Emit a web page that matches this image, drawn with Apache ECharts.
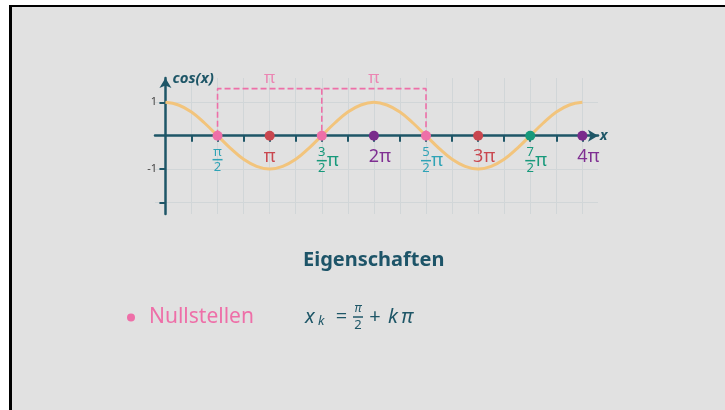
<!DOCTYPE html>
<html>
<head>
<meta charset="utf-8">
<script src="https://cdn.jsdelivr.net/npm/echarts@6/dist/echarts.min.js"></script>
<style>
  body { margin: 0; background: #fff; }
  #frame { position: absolute; left: 9px; top: 5px; width: 716px; height: 405px; box-sizing: border-box;
    border-left: 3px solid #000; border-top: 2px solid #000; background: #e1e1e1; }
  #main { position: absolute; left: 0; top: 0; width: 725px; height: 410px; }
</style>
</head>
<body>
<div id="frame"></div>
<div id="main"></div>
<script>
// x values are in units of pi
const curveX = [0, 0.125, 0.25, 0.375, 0.5, 0.625, 0.75, 0.875, 1, 1.125, 1.25, 1.375, 1.5, 1.625, 1.75, 1.875,
  2, 2.125, 2.25, 2.375, 2.5, 2.625, 2.75, 2.875, 3, 3.125, 3.25, 3.375, 3.5, 3.625, 3.75, 3.875, 4];
const curveY = [1, 0.92, 0.71, 0.38, 0, -0.38, -0.71, -0.92, -1, -0.92, -0.71, -0.38, 0, 0.38, 0.71, 0.92,
  1, 0.92, 0.71, 0.38, 0, -0.38, -0.71, -0.92, -1, -0.92, -0.71, -0.38, 0, 0.38, 0.71, 0.92, 1];
const pointX = [0.5, 1, 1.5, 2, 2.5, 3, 3.5, 4];
const pointLabels = ['π/2', 'π', '3/2π', '2π', '5/2π', '3π', '7/2π', '4π'];
const bracketX = [0.5, 1.5, 2.5];
const bracketTop = 1.41;
const spanX = [1, 2];
const spanLabels = ['π', 'π'];
const xTickValues = [0.25, 0.5, 0.75, 1, 1.25, 1.5, 1.75, 2, 2.25, 2.5, 2.75, 3, 3.25, 3.5, 3.75, 4];
const yTickValues = [1, -1, -2];
const yLabelValues = [1, -1];

const AX = '#1e5667';
const PINK = '#ee6fa8';
const pointColors = [PINK, '#c9474f', PINK, '#7a2b8c', PINK, '#c9474f', '#17997b', '#7a2b8c'];
const labelColors = ['#2fa3b6', '#c9474f', '#17997b', '#7f2f92', '#2fa3b6', '#c9474f', '#17997b', '#7f2f92'];

const FONT = '"Noto Sans", "DejaVu Sans", sans-serif';

function pointLabel(txt, color) {
  const m = txt.match(/^(.+)\/(\d)(π?)$/);
  const rich = {
    w: { fontSize: 18, lineHeight: 20, color: color, fontFamily: FONT },
    n: { fontSize: 13, lineHeight: 11, width: 10, align: 'center', color: color, fontFamily: FONT },
    d: { fontSize: 13, lineHeight: 12, width: 10, align: 'center', color: color, fontFamily: FONT },
    b: { width: 10, height: 1.5, lineHeight: 4, backgroundColor: color },
    p: { fontSize: 18, lineHeight: 4, width: 12, align: 'left', color: color, fontFamily: FONT },
    g: { width: 12 },
  };
  let text, offset = [0, 0];
  if (m) {
    if (m[3]) {
      text = '{n|' + m[1] + '}{g|}\n{b|}{p|π}\n{d|' + m[2] + '}{g|}';
      offset = [6, 0];
    } else {
      text = '{n|' + m[1] + '}\n{b|}\n{d|' + m[2] + '}';
    }
  } else {
    text = '{w|' + txt + '}';
    if (txt.length > 1) offset = [6, 0];
  }
  return { show: true, position: 'bottom', distance: 6, offset: offset, formatter: text, rich: rich };
}

const myChart = echarts.init(document.getElementById('main'));
myChart.setOption({
  animation: false,
  backgroundColor: 'transparent',
  grid: { left: 155, right: 127, top: 78, bottom: 196 },
  title: [
    {
      text: 'Eigenschaften', left: 303, top: 250, padding: 0,
      textStyle: { fontSize: 20, fontWeight: 'bold', color: '#1d5468', fontFamily: FONT },
    },
    {
      text: '{dot|}{t|Nullstellen}', left: 127, top: 307, padding: 0,
      textStyle: {
        rich: {
          dot: { width: 8, height: 8, borderRadius: 4, backgroundColor: PINK },
          t: { fontSize: 21, fontWeight: 'normal', color: PINK, padding: [0, 0, 0, 14], fontFamily: FONT },
        },
      },
    },
    {
      text: '{s|}{fn|π}{s2|}\n{x|x}{k|k}{eq|=}{b|}{pl|+}{kk|k}{pi|π}\n{s|}{fd|2}{s2|}',
      left: 305, top: 303, padding: 0,
      textStyle: {
        rich: {
          s: { width: 48, lineHeight: 12 },
          s2: { width: 52, lineHeight: 12 },
          fn: { fontSize: 12, fontStyle: 'italic', fontWeight: 'normal', width: 10, align: 'center', lineHeight: 12, color: AX, fontFamily: FONT },
          fd: { fontSize: 13, fontWeight: 'normal', width: 10, align: 'center', lineHeight: 12, color: AX, fontFamily: FONT },
          x: { fontSize: 20, fontStyle: 'italic', fontWeight: 'normal', width: 13, lineHeight: 4, color: AX, fontFamily: FONT },
          k: { fontSize: 13, fontStyle: 'italic', fontWeight: 'normal', width: 12, lineHeight: 4, padding: [9, 0, 0, 0], color: AX, fontFamily: FONT },
          eq: { fontSize: 20, fontWeight: 'normal', width: 23, align: 'center', lineHeight: 4, color: AX, fontFamily: FONT },
          b: { width: 10, height: 1.5, lineHeight: 4, backgroundColor: AX },
          pl: { fontSize: 20, fontWeight: 'normal', width: 24, align: 'center', lineHeight: 4, color: AX, fontFamily: FONT },
          kk: { fontSize: 20, fontStyle: 'italic', fontWeight: 'normal', width: 12, align: 'center', lineHeight: 4, color: AX, fontFamily: FONT },
          pi: { fontSize: 20, fontStyle: 'italic', fontWeight: 'normal', width: 16, lineHeight: 4, color: AX, fontFamily: FONT },
        },
      },
    },
  ],
  xAxis: {
    type: 'value', min: -0.1, max: 4.15,
    name: 'x', nameLocation: 'end', nameGap: 2,
    nameTextStyle: { fontSize: 14, fontWeight: 'bold', fontStyle: 'italic', color: AX, align: 'left',
      verticalAlign: 'middle', padding: [0, 0, 24, 0], fontFamily: FONT },
    axisLine: { onZero: true, symbol: ['none', 'arrow'], symbolSize: [9, 10], lineStyle: { color: AX, width: 2.5 } },
    axisTick: { customValues: xTickValues, length: 6, lineStyle: { color: AX, width: 2 } },
    axisLabel: { show: false },
    splitLine: { show: true, lineStyle: { color: '#d1d6d8', width: 1 } },
  },
  yAxis: {
    type: 'value', min: -2.35, max: 1.73,
    name: 'cos(x)', nameLocation: 'end', nameGap: -1,
    nameTextStyle: { fontSize: 15, fontWeight: 'bold', fontStyle: 'italic', color: AX, align: 'left',
      verticalAlign: 'middle', padding: [0, 0, 0, 7], fontFamily: FONT },
    axisLine: { onZero: true, symbol: ['none', 'arrow'], symbolSize: [9, 10], lineStyle: { color: AX, width: 2.5 } },
    axisTick: { customValues: yTickValues, length: 6, lineStyle: { color: AX, width: 2 } },
    axisLabel: { customValues: yLabelValues, fontSize: 11, color: '#444', margin: -2, fontFamily: FONT },
    splitLine: { show: true, lineStyle: { color: '#d1d6d8', width: 1 } },
  },
  series: [
    {
      type: 'line', smooth: 0.4, symbol: 'none',
      data: curveX.map((x, i) => [x, curveY[i]]),
      lineStyle: { color: '#f2c47c', width: 3 },
      z: 2,
    },
    {
      type: 'line', symbol: 'none',
      data: [[bracketX[0], 0], [bracketX[0], bracketTop], [bracketX[2], bracketTop], [bracketX[2], 0]],
      lineStyle: { color: PINK, width: 1.6, type: [6, 3] },
      z: 3,
    },
    {
      type: 'line', symbol: 'none',
      data: [[bracketX[1], bracketTop], [bracketX[1], 0]],
      lineStyle: { color: PINK, width: 1.6, type: [6, 3] },
      z: 3,
    },
    {
      type: 'scatter', symbolSize: 0,
      data: spanX.map((x, i) => ({ value: [x, bracketTop], name: spanLabels[i] })),
      label: { show: true, position: 'top', distance: 2, formatter: '{b}', fontSize: 17, color: PINK, fontFamily: FONT },
      z: 4,
    },
    {
      type: 'scatter', symbolSize: 10,
      data: pointX.map((x, i) => ({
        value: [x, 0],
        itemStyle: { color: pointColors[i], opacity: 1 },
        label: pointLabel(pointLabels[i], labelColors[i]),
      })),
      z: 5,
    },
  ],
});
</script>
</body>
</html>
